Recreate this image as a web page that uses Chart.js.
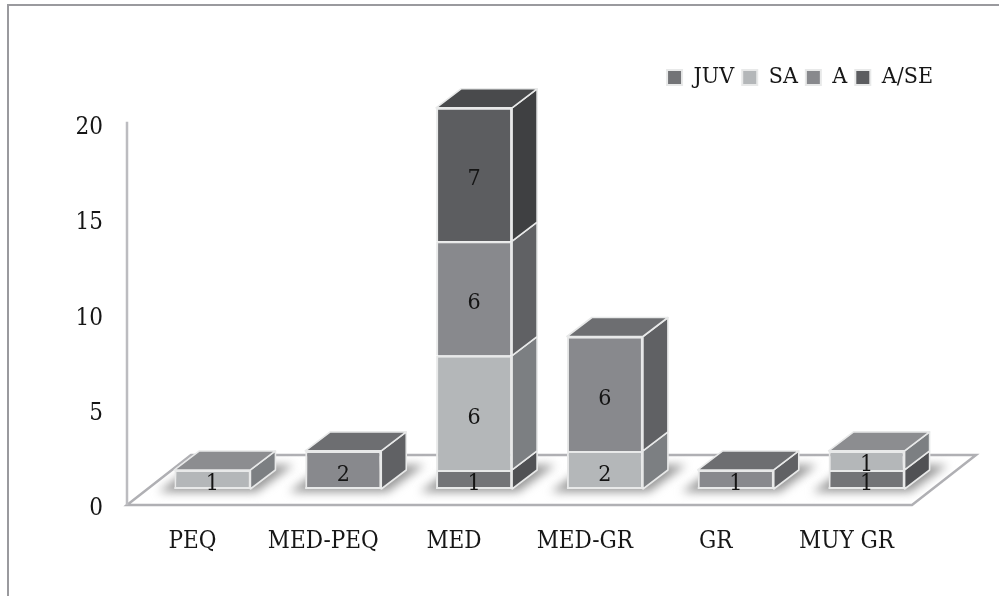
<!DOCTYPE html>
<html>
<head>
<meta charset="utf-8">
<style>
  html, body { margin: 0; padding: 0; background: #fff; }
  canvas { display: block; }
</style>
<script src="https://cdn.jsdelivr.net/npm/chart.js@4"></script>
</head>
<body>
<canvas id="chart" width="999" height="596"></canvas>
<script>
// Size classes along the horizontal axis
const categories = ['PEQ', 'MED-PEQ', 'MED', 'MED-GR', 'GR', 'MUY GR'];

// Counts per age class, stacked bottom to top
const juv  = [null, null, 1, null, null, 1];
const sa   = [1, null, 6, 2, null, 1];
const a    = [null, 2, 6, 6, 1, null];
const aSe  = [null, null, 7, null, null, null];

const seriesNames = ['JUV', 'SA', 'A', 'A/SE'];
const frontColors = ['#737477', '#b4b7b9', '#88898d', '#5c5d60'];
const sideColors  = ['#505154', '#7c7f82', '#606164', '#3f4042'];
const topColors   = ['#5e5f62', '#8c8d90', '#6d6e71', '#494a4c'];

const yAxisMax = 21.3;
const yTickStep = 5;

const FONT = '"DejaVu Serif Condensed", "DejaVu Serif", serif';
const EDGE = '#e8e9e9';
const TEXT = '#161616';

// Projection offsets of the pseudo-3D scene
const barShift = { x: 20, y: -16 };
const barDepth = { x: 25, y: -19 };
const floorDepth = { x: 64, y: -50 };

function poly(ctx, pts) {
  ctx.beginPath();
  pts.forEach((p, i) => i ? ctx.lineTo(p[0], p[1]) : ctx.moveTo(p[0], p[1]));
  ctx.closePath();
}

// Outer frame, floor plane and back wall line behind the bars
const scenePlugin = {
  id: 'scene',
  beforeDatasetsDraw(chart) {
    const { ctx, scales: { x, y } } = chart;
    const y0 = y.getPixelForValue(0);
    const y20 = y.getPixelForValue(20);
    ctx.save();
    ctx.strokeStyle = '#9a9a9e';
    ctx.lineWidth = 2;
    ctx.beginPath();
    ctx.moveTo(8, 596);
    ctx.lineTo(8, 5);
    ctx.lineTo(999, 5);
    ctx.stroke();

    ctx.strokeStyle = '#b0b0b4';
    ctx.lineWidth = 2.5;
    ctx.fillStyle = '#ffffff';
    poly(ctx, [
      [x.left, y0], [x.right, y0],
      [x.right + floorDepth.x, y0 + floorDepth.y],
      [x.left + floorDepth.x, y0 + floorDepth.y]
    ]);
    ctx.fill();
    ctx.stroke();
    ctx.strokeStyle = '#bcbcc0';
    ctx.beginPath();
    ctx.moveTo(x.left, y0);
    ctx.lineTo(x.left, y20 - 2);
    ctx.stroke();

    // Soft shadows cast on the floor
    const bases = stackTops(chart);
    ctx.filter = 'blur(5px)';
    ctx.fillStyle = '#989898';
    bases.forEach(s => {
      const l = s.left + barShift.x, r = s.right + barShift.x, b = s.base + barShift.y;
      poly(ctx, [
        [l - 16, b + 3], [r + 6, b + 3],
        [r + barDepth.x + 18, b + barDepth.y - 5],
        [l + barDepth.x - 4, b + barDepth.y - 5]
      ]);
      ctx.fill();
    });
    ctx.filter = 'none';
    ctx.restore();

    // Native bars draw the front faces, moved onto the floor plane
    ctx.save();
    ctx.translate(barShift.x, barShift.y);
  },
  afterDatasetsDraw(chart) {
    const { ctx } = chart;
    ctx.restore();
    ctx.save();
    ctx.lineJoin = 'round';
    ctx.strokeStyle = EDGE;
    ctx.lineWidth = 1.6;

    chart.data.datasets.forEach((ds, di) => {
      chart.getDatasetMeta(di).data.forEach((el, i) => {
        if (ds.data[i] == null) return;
        const r = el.x + el.width / 2 + barShift.x;
        const t = el.y + barShift.y;
        const b = el.base + barShift.y;
        ctx.fillStyle = sideColors[di];
        poly(ctx, [[r, b], [r + barDepth.x, b + barDepth.y], [r + barDepth.x, t + barDepth.y], [r, t]]);
        ctx.fill();
        ctx.stroke();
      });
    });

    stackTops(chart).forEach(s => {
      const l = s.left + barShift.x, r = s.right + barShift.x;
      const t = s.top + barShift.y, b = s.base + barShift.y;
      ctx.fillStyle = topColors[s.series];
      poly(ctx, [[l, t], [r, t], [r + barDepth.x, t + barDepth.y], [l + barDepth.x, t + barDepth.y]]);
      ctx.fill();
      ctx.stroke();
      // Base edge of the front face
      ctx.lineWidth = 2;
      ctx.beginPath();
      ctx.moveTo(l, b - 1);
      ctx.lineTo(r, b - 1);
      ctx.stroke();
      ctx.lineWidth = 1.6;
    });

    // Value labels centred on each segment
    ctx.fillStyle = '#141414';
    ctx.font = '23px ' + FONT;
    ctx.textAlign = 'center';
    ctx.textBaseline = 'middle';
    chart.data.datasets.forEach((ds, di) => {
      chart.getDatasetMeta(di).data.forEach((el, i) => {
        const v = ds.data[i];
        if (v == null) return;
        ctx.fillText(String(v), el.x + barShift.x, (el.y + el.base) / 2 + barShift.y + 5);
      });
    });
    ctx.restore();
  }
};

// Footprint and top segment of each category's stack
function stackTops(chart) {
  return categories.map((_, i) => {
    let out = null;
    chart.data.datasets.forEach((ds, di) => {
      if (ds.data[i] == null) return;
      const el = chart.getDatasetMeta(di).data[i];
      const box = {
        left: el.x - el.width / 2, right: el.x + el.width / 2,
        top: el.y, base: el.base, series: di
      };
      if (!out) out = box;
      else { out.top = box.top; out.series = di; }
    });
    return out;
  }).filter(Boolean);
}

const seriesValues = [juv, sa, a, aSe];

new Chart(document.getElementById('chart'), {
  type: 'bar',
  data: {
    labels: categories,
    datasets: seriesValues.map((values, i) => ({
      label: seriesNames[i],
      data: values,
      backgroundColor: frontColors[i],
      borderColor: EDGE,
      borderWidth: 2,
      categoryPercentage: 1,
      barPercentage: 0.581
    }))
  },
  plugins: [scenePlugin],
  options: {
    responsive: false,
    animation: false,
    layout: { padding: { top: 58, right: 58, bottom: 0, left: 0 } },
    plugins: {
      tooltip: { enabled: false },
      legend: {
        position: 'top',
        align: 'end',
        labels: {
          boxWidth: 15,
          boxHeight: 15,
          padding: 8,
          color: TEXT,
          font: { family: FONT, size: 23 }
        }
      }
    },
    scales: {
      x: {
        stacked: true,
        grid: { display: false, drawTicks: false },
        border: { display: false },
        afterFit(scale) { scale.height = 91; },
        ticks: {
          autoSkip: false,
          maxRotation: 0,
          padding: 22,
          color: TEXT,
          font: { family: FONT, size: 24 }
        }
      },
      y: {
        stacked: true,
        min: 0,
        max: yAxisMax,
        grid: { display: false, drawTicks: false },
        border: { display: false },
        afterFit(scale) { scale.width = 127; },
        ticks: {
          stepSize: yTickStep,
          includeBounds: false,
          padding: 24,
          labelOffset: 4,
          color: TEXT,
          font: { family: FONT, size: 24 }
        }
      },
      // Empty right-hand gutter that keeps the plot clear of the legend's right edge
      gutter: {
        type: 'linear',
        position: 'right',
        display: true,
        grid: { display: false, drawTicks: false },
        border: { display: false },
        ticks: { display: false },
        afterFit(scale) { scale.width = 29; }
      }
    }
  }
});
</script>
</body>
</html>
